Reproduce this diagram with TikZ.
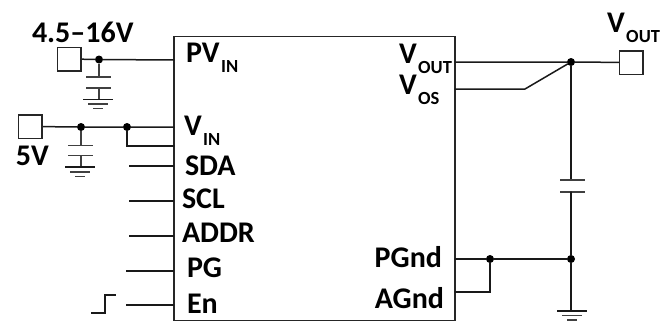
\documentclass[tikz,border=0pt]{standalone}
\usepackage{fontspec}
\setmainfont{Carlito}
\newcommand{\lblfont}{\fontsize{30}{32}\selectfont}
\newcommand{\VSub}[1]{V\kern1.5pt\raisebox{-10.5pt}{\fontsize{18.5}{19}\selectfont\bfseries #1}}
\tikzset{
  wire/.style={line width=1.5pt,line cap=round,draw=black!90},
  thin wire/.style={line width=1.4pt,draw=black!75},
  term/.style={draw=black!85,line width=1.5pt,fill=white,minimum width=23.5pt,minimum height=23.5pt,inner sep=0pt,outer sep=0pt},
  jdot/.style={circle,fill=black,minimum size=8pt,inner sep=0pt,outer sep=0pt},
  lbl/.style={inner sep=0pt,outer sep=0pt,text=black,font=\lblfont\bfseries},
  chip/.style={draw=black!85,line width=1.5pt,inner sep=0pt,outer sep=0pt,minimum width=281pt,minimum height=284pt}
}
\begin{document}
\begin{tikzpicture}[x=1pt,y=-1pt]
\useasboundingbox (0,0) rectangle (669,322);
\node[chip] (ic) at (314.5,178.5) {};
% terminals
\node[term] (t1) at (69,59) {};
\node[term] (t2) at (30,126.5) {};
\node[term] (t3) at (631,62.5) {};
% junctions
\node[jdot] (d1) at (99,59.5) {};
\node[jdot] (d2) at (81,127) {};
\node[jdot] (d3) at (127,127) {};
\node[jdot] (d4) at (571,62) {};
\node[jdot] (d5) at (490,259) {};
\node[jdot] (d6) at (571,259) {};
% chip pin coordinates
\coordinate (pvin) at (174,60);
\coordinate (vin) at (174,127);
\coordinate (vin2) at (174,146);
\coordinate (vout) at (455,62);
\coordinate (vos) at (455,89);
\coordinate (pg) at (455,259);
\coordinate (ag) at (455,292);
% main wires
\draw[wire] (t1) -- (d1) -- (pvin);
\draw[wire] (t2) -- (d2) -- (d3) -- (vin);
\draw[wire] (d3) |- (vin2);
\draw[wire] (vout) -- (d4) -- (t3);
\draw[wire] (vos) -- (525,89) -- (d4);
\draw[wire] (pg) -- (d5) -- (d6);
\draw[wire] (ag) -| (d5);
% re-place terminal borders over wires
\node[term] at (t1) {};
\node[term] at (t2) {};
\node[term] at (t3) {};
% pin stubs
\foreach \n/\xa/\ya in {sda/129/166,scl/129/201,addr/129/236,pgp/126/271,en/126/305}{
  \coordinate (\n a) at (\xa,\ya);
  \coordinate (\n b) at (174,\ya);
  \draw[wire,line cap=butt] (\n a) -- (\n b);
}
% enable step
\draw[wire,line cap=butt] (91,313) -- (105,313) -- (105,295) -- (116,295);
% capacitor PVin
\draw[thin wire] (d1) -- (99,77);
\draw[thin wire] (86,77) -- (111,77);
\draw[thin wire] (86,88) -- (111,88);
\draw[thin wire] (99,88) -- (99,99);
\draw[wire,line cap=butt] (83,99.5) -- (113,99.5);
\draw[thin wire] (88,104) -- (108,104);
\draw[thin wire] (93,108.5) -- (103,108.5);
% capacitor Vin
\draw[thin wire] (d2) -- (81,145.5);
\draw[thin wire] (68,145.5) -- (93,145.5);
\draw[thin wire] (68,155.5) -- (93,155.5);
\draw[thin wire] (81,155.5) -- (81,167);
\draw[wire,line cap=butt] (65,167) -- (95,167);
\draw[thin wire] (70,172) -- (90,172);
\draw[thin wire] (75,176.5) -- (85,176.5);
% output capacitor
\draw[wire] (d4) -- (571,180);
\draw[thin wire] (560,180) -- (585,180);
\draw[thin wire] (560,192) -- (585,192);
\draw[wire] (571,192) -- (d6);
\draw[wire] (d6) -- (571,311);
\draw[wire,line cap=butt] (557,311) -- (587,311);
\draw[thin wire] (562,315.5) -- (582,315.5);
\draw[thin wire] (567,320) -- (577,320);
% labels
\node[lbl,anchor=base west] (l1) at (32,42) {4.5--16V};
\node[lbl,anchor=base west] (l2) at (16,165) {5V};
\node[lbl,anchor=base west] (l3) at (186,62) {P\VSub{IN}};
\node[lbl,anchor=base west] (l4) at (184,135) {\VSub{IN}};
\node[lbl,anchor=base west] (l5) at (185,175) {SDA};
\node[lbl,anchor=base west] (l6) at (182,208) {SCL};
\node[lbl,anchor=base west] (l7) at (182,242) {ADDR};
\node[lbl,anchor=base west] (l8) at (187,277) {PG};
\node[lbl,anchor=base west] (l9) at (187,313) {En};
\node[lbl,anchor=base west] (l10) at (399,63) {\VSub{OUT}};
\node[lbl,anchor=base west] (l11) at (399,94) {\VSub{OS}};
\node[lbl,anchor=base east] (l12) at (442,267) {PGnd};
\node[lbl,anchor=base east] (l13) at (444,308) {AGnd};
\node[lbl,anchor=base west] (l14) at (607,32) {\VSub{OUT}};
\end{tikzpicture}
\end{document}
